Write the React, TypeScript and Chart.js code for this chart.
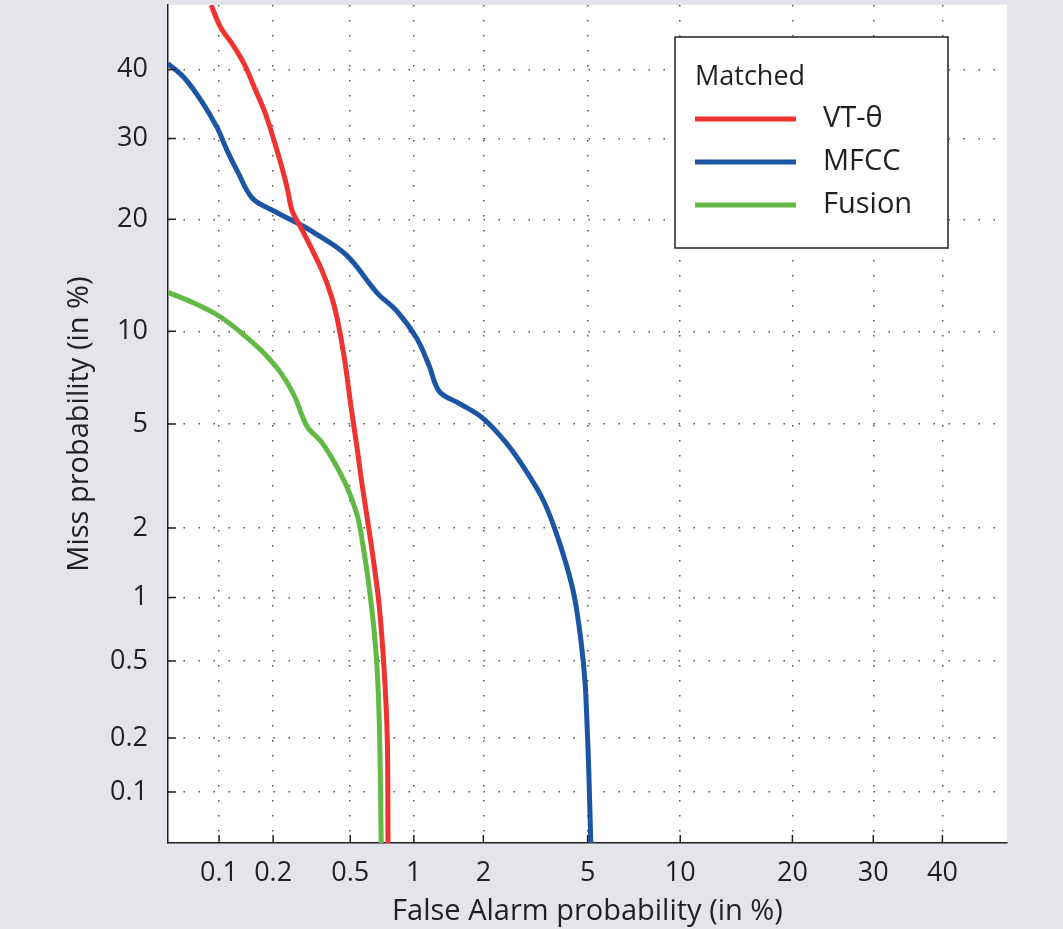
import React, { useEffect, useRef } from 'react';
import { Chart, registerables, Scale } from 'chart.js';

// ---- data (percentages) ----
const tickValuesX = [0.1, 0.2, 0.5, 1, 2, 5, 10, 20, 30, 40];
const tickValuesY = [0.1, 0.2, 0.5, 1, 2, 5, 10, 20, 30, 40];
const axisMin = 0.05;
const axisMax = 50;

const legendTitle = 'Matched';
const xTitle = 'False Alarm probability (in %)';
const yTitle = 'Miss probability (in %)';

const vtLabel = 'VT-θ';
const vtFalseAlarm = [0.09, 0.102, 0.119, 0.139, 0.158, 0.179, 0.198, 0.221, 0.238, 0.253, 0.276, 0.318, 0.362, 0.402, 0.431, 0.468, 0.506, 0.541, 0.566, 0.606, 0.647, 0.691, 0.73, 0.754, 0.76];
const vtMiss = [50, 46.5, 43.9, 40.8, 37.3, 33.9, 30.5, 26.5, 23.6, 20.9, 19.4, 17.0, 14.8, 12.7, 10.9, 8.26, 5.65, 4.07, 3.14, 2.18, 1.48, 0.91, 0.438, 0.196, 0.05];

const mfccLabel = 'MFCC';
const mfccFalseAlarm = [0.05, 0.0624, 0.0786, 0.0975, 0.111, 0.127, 0.154, 0.203, 0.269, 0.321, 0.479, 0.676, 0.832, 1.03, 1.17, 1.3, 1.59, 2.0, 2.49, 2.98, 3.43, 3.81, 4.21, 4.5, 4.73, 4.89, 4.97, 5.05, 5.13];
const mfccMiss = [40.9, 38.8, 35.4, 31.5, 28.4, 25.7, 22.4, 20.9, 19.6, 18.7, 16.3, 12.9, 11.5, 9.53, 7.85, 6.45, 5.88, 5.22, 4.25, 3.34, 2.62, 1.98, 1.38, 0.99, 0.637, 0.404, 0.251, 0.128, 0.05];

const fusionLabel = 'Fusion';
const fusionFalseAlarm = [0.05, 0.0715, 0.1, 0.139, 0.179, 0.221, 0.259, 0.303, 0.358, 0.416, 0.479, 0.535, 0.56, 0.62, 0.669, 0.691, 0.706];
const fusionMiss = [12.97, 12.1, 11.1, 9.73, 8.56, 7.4, 6.26, 4.89, 4.32, 3.64, 2.95, 2.33, 1.98, 1.09, 0.526, 0.242, 0.05];

const colors = { vt: '#ee3330', mfcc: '#1d55a5', fusion: '#63b946' };
const textColor = '#231f20';
const FONT = '"Open Sans", "DejaVu Sans", sans-serif';

// ---- normal deviate helpers ----
function probit(p: number): number {
  const a = [-3.969683028665376e1, 2.209460984245205e2, -2.759285104469687e2, 1.38357751867269e2, -3.066479806614716e1, 2.506628277459239];
  const b = [-5.447609879822406e1, 1.615858368580409e2, -1.556989798598866e2, 6.680131188771972e1, -1.328068155288572e1];
  const c = [-7.784894002430293e-3, -3.223964580411365e-1, -2.400758277161838, -2.549732539343734, 4.374664141464968, 2.938163982698783];
  const d = [7.784695709041462e-3, 3.224671290700398e-1, 2.445134137142996, 3.754408661907416];
  const plow = 0.02425;
  const phigh = 1 - plow;
  if (p <= 0) return -8;
  if (p >= 1) return 8;
  let q: number, r: number;
  if (p < plow) {
    q = Math.sqrt(-2 * Math.log(p));
    return (((((c[0] * q + c[1]) * q + c[2]) * q + c[3]) * q + c[4]) * q + c[5]) / ((((d[0] * q + d[1]) * q + d[2]) * q + d[3]) * q + 1);
  }
  if (p <= phigh) {
    q = p - 0.5;
    r = q * q;
    return ((((((a[0] * r + a[1]) * r + a[2]) * r + a[3]) * r + a[4]) * r + a[5]) * q) / (((((b[0] * r + b[1]) * r + b[2]) * r + b[3]) * r + b[4]) * r + 1);
  }
  q = Math.sqrt(-2 * Math.log(1 - p));
  return -(((((c[0] * q + c[1]) * q + c[2]) * q + c[3]) * q + c[4]) * q + c[5]) / ((((d[0] * q + d[1]) * q + d[2]) * q + d[3]) * q + 1);
}

function normCdf(z: number): number {
  const t = 1 / (1 + 0.3275911 * Math.abs(z) / Math.SQRT2);
  const y = 1 - (((((1.061405429 * t - 1.453152027) * t) + 1.421413741) * t - 0.284496736) * t + 0.254829592) * t * Math.exp(-(z * z) / 2);
  return z >= 0 ? 0.5 * (1 + y) : 0.5 * (1 - y);
}

class ProbitScale extends (Scale as any) {
  static id = 'probit';
  static defaults = {};
  determineDataLimits() {
    const o: any = (this as any).options;
    (this as any).min = o.min;
    (this as any).max = o.max;
  }
  buildTicks() {
    return [];
  }
  configure() {
    super.configure();
    (this as any)._zStart = probit((this as any).min / 100);
    (this as any)._zEnd = probit((this as any).max / 100);
  }
  getLabelForValue(v: number) {
    return String(v);
  }
  getPixelForValue(v: number) {
    if (v == null || isNaN(v)) return NaN;
    const s = (this as any)._zStart;
    const e = (this as any)._zEnd;
    return (this as any).getPixelForDecimal((probit(v / 100) - s) / (e - s));
  }
  getValueForPixel(px: number) {
    const s = (this as any)._zStart;
    const e = (this as any)._zEnd;
    const dec = (this as any).getDecimalForPixel(px);
    return normCdf(s + dec * (e - s)) * 100;
  }
}

Chart.register(...registerables);
Chart.register(ProbitScale as any);

function toPoints(xs: number[], ys: number[]) {
  return xs.map((x, i) => ({ x, y: ys[i] }));
}

const backgroundPlugin = {
  id: 'bgPlugin',
  beforeDraw(chart: any) {
    const { ctx, chartArea, width, height } = chart;
    ctx.save();
    ctx.fillStyle = '#e4e5ea';
    ctx.fillRect(0, 0, width, height);
    ctx.fillStyle = '#ffffff';
    ctx.fillRect(chartArea.left, chartArea.top, chartArea.right - chartArea.left, chartArea.bottom - chartArea.top);
    ctx.restore();
  },
};

const tickMarksPlugin = {
  id: 'tickMarks',
  afterDatasetsDraw(chart: any) {
    const { ctx, chartArea, scales } = chart;
    ctx.save();
    ctx.strokeStyle = textColor;
    ctx.lineWidth = 1.5;
    ctx.beginPath();
    scales.x.ticks.forEach((t: any) => {
      const px = scales.x.getPixelForValue(t.value);
      ctx.moveTo(px, chartArea.bottom);
      ctx.lineTo(px, chartArea.bottom - 8);
    });
    scales.y.ticks.forEach((t: any) => {
      const py = scales.y.getPixelForValue(t.value);
      ctx.moveTo(chartArea.left, py);
      ctx.lineTo(chartArea.left + 8, py);
    });
    ctx.stroke();
    ctx.restore();
  },
};

const legendBoxPlugin = {
  id: 'legendBox',
  afterDraw(chart: any) {
    const { ctx, chartArea } = chart;
    const right = chartArea.right - 59;
    const left = right - 273;
    const top = chartArea.top + 32;
    const bottom = top + 211;
    ctx.save();
    ctx.fillStyle = '#ffffff';
    ctx.fillRect(left, top, right - left, bottom - top);
    ctx.strokeStyle = textColor;
    ctx.lineWidth = 1.5;
    ctx.strokeRect(left, top, right - left, bottom - top);
    ctx.fillStyle = textColor;
    ctx.textBaseline = 'middle';
    ctx.textAlign = 'left';
    ctx.font = `27px ${FONT}`;
    ctx.fillText(legendTitle, left + 20, top + 40);
    ctx.font = `29px ${FONT}`;
    chart.data.datasets.forEach((ds: any, i: number) => {
      const y = top + 82 + i * 43;
      ctx.strokeStyle = ds.borderColor;
      ctx.lineWidth = 5;
      ctx.beginPath();
      ctx.moveTo(left + 20, y);
      ctx.lineTo(left + 121, y);
      ctx.stroke();
      ctx.fillStyle = textColor;
      ctx.fillText(ds.label, left + 148, y);
    });
    ctx.restore();
  },
};

export default function App() {
  const ref = useRef<HTMLCanvasElement>(null);
  useEffect(() => {
    if (!ref.current) return;
    Chart.defaults.font.family = FONT;
    const lineDs = (label: string, color: string, xs: number[], ys: number[]) => ({
      label,
      data: toPoints(xs, ys),
      borderColor: color,
      backgroundColor: color,
      borderWidth: 5,
      pointRadius: 0,
      tension: 0.35,
      borderJoinStyle: 'round' as const,
      fill: false,
      clip: 0,
    });
    const gridOpts = {
      display: true,
      drawTicks: false,
      color: '#555555',
      lineWidth: 1.5,
    };
    const chart = new Chart(ref.current, {
      type: 'line',
      data: {
        datasets: [
          lineDs(vtLabel, colors.vt, vtFalseAlarm, vtMiss),
          lineDs(mfccLabel, colors.mfcc, mfccFalseAlarm, mfccMiss),
          lineDs(fusionLabel, colors.fusion, fusionFalseAlarm, fusionMiss),
        ],
      },
      options: {
        animation: false,
        responsive: false,
        events: [],
        layout: { padding: { top: 5, right: 56, left: 0, bottom: 0 } },
        plugins: { legend: { display: false }, tooltip: { enabled: false } },
        scales: {
          x: {
            type: 'probit' as any,
            position: 'bottom',
            min: axisMin,
            max: axisMax,
            afterBuildTicks: (s: any) => {
              s.ticks = tickValuesX.map((v) => ({ value: v }));
            },
            afterFit: (s: any) => {
              s.height = 86;
              s.paddingLeft = 0;
              s.paddingRight = 0;
            },
            grid: gridOpts,
            border: { display: true, color: textColor, width: 1.5, dash: [1.5, 13.5] },
            ticks: {
              autoSkip: false,
              maxRotation: 0,
              padding: 14,
              color: textColor,
              font: { size: 27, family: FONT },
              callback: (v: any) => String(v),
            },
            title: {
              display: true,
              text: xTitle,
              color: textColor,
              font: { size: 29, family: FONT },
              padding: { top: 0, bottom: 0 },
            },
          } as any,
          y: {
            type: 'probit' as any,
            position: 'left',
            min: axisMin,
            max: axisMax,
            afterBuildTicks: (s: any) => {
              s.ticks = tickValuesY.map((v) => ({ value: v }));
            },
            afterFit: (s: any) => {
              s.width = 168;
              s.paddingTop = 0;
              s.paddingBottom = 0;
            },
            grid: gridOpts,
            border: { display: true, color: textColor, width: 1.5, dash: [1.5, 13.5] },
            ticks: {
              autoSkip: false,
              padding: 20,
              color: textColor,
              font: { size: 27, family: FONT },
              callback: (v: any) => String(v),
            },
            title: {
              display: true,
              text: yTitle,
              color: textColor,
              font: { size: 29, family: FONT },
              padding: { top: 62, bottom: 0 },
            },
          } as any,
        },
      },
      plugins: [backgroundPlugin, tickMarksPlugin, legendBoxPlugin],
    } as any);
    return () => chart.destroy();
  }, []);
  return (
    <div style={{ position: 'fixed', left: 0, top: 0, width: 1063, height: 929, background: '#e4e5ea' }}>
      <canvas ref={ref} width={1063} height={929} style={{ display: 'block' }} />
    </div>
  );
}
